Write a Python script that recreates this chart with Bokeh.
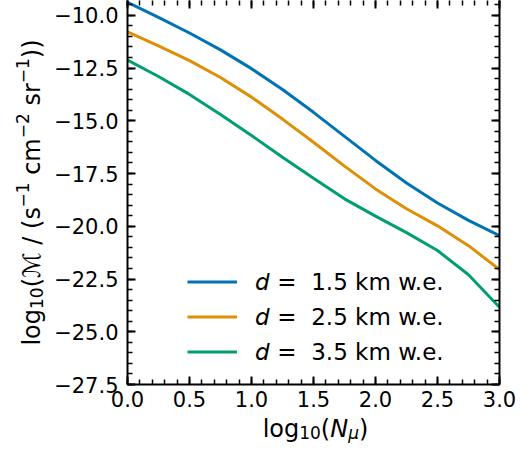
import math
from bokeh.plotting import figure
from bokeh.layouts import row, column
from bokeh.models import (LinearAxis, Range1d, SingleIntervalTicker, CustomJSTickFormatter,
                          Legend, LegendItem, Label, ColumnDataSource)
from bokeh.embed import file_html
from bokeh.resources import INLINE

# ---- data ----
log_n_mu = [0.0, 0.25, 0.5, 0.75, 1.0, 1.25, 1.5, 1.75, 2.0, 2.25, 2.5, 2.75, 3.0]
m_d15 = [-9.39, -10.10, -10.84, -11.64, -12.53, -13.52, -14.60, -15.74, -16.88, -17.95, -18.90, -19.72, -20.45]
m_d25 = [-10.79, -11.45, -12.15, -12.95, -13.88, -14.92, -16.02, -17.15, -18.23, -19.17, -19.98, -20.92, -22.05]
m_d35 = [-12.12, -12.90, -13.75, -14.70, -15.70, -16.73, -17.72, -18.70, -19.52, -20.30, -21.15, -22.30, -23.84]
depth_labels = ["\U0001D625 =  1.5 km w.e.", "\U0001D625 =  2.5 km w.e.", "\U0001D625 =  3.5 km w.e."]
colors = ["#0173B2", "#DE8F05", "#029E73"]

FONT = "DejaVu Sans"
TOTAL_W, TOTAL_H = 516, 443
YLAB_W = 48
XLAB_H = 28
FRAME_L, FRAME_R = 127, 499          # frame edges on the page
TEXT_DROP = 7  # observed offset of Bokeh's alphabetic baseline

# approximate DejaVu Sans advance widths (em) used to lay out label pieces
ADV = {'l': 0.278, 'o': 0.612, 'g': 0.635, '1': 0.636, '0': 0.636, '2': 0.636, '(': 0.390, ')': 0.390,
       ' ': 0.318, '/': 0.337, 's': 0.521, 'c': 0.550, 'm': 0.974, 'r': 0.411, '\u2212': 0.838,
       'N': 0.748, '\u03bc': 0.636, '\u2133': 1.05}


def width(txt, size):
    return sum(ADV[ch] for ch in txt) * size


# ---- main plot ----
p = figure(width=TOTAL_W - YLAB_W, height=TOTAL_H - XLAB_H, x_range=Range1d(0, 3), y_range=Range1d(-27.5, -9.3),
           output_backend="svg", toolbar_location=None,
           x_axis_location=None, y_axis_location=None,
           min_border_left=FRAME_L - YLAB_W, min_border_right=TOTAL_W - FRAME_R,
           min_border_top=0, min_border_bottom=31)
p.grid.visible = False
p.outline_line_color = None
p.background_fill_color = "white"

fmt = CustomJSTickFormatter(code='return (tick < 0 ? "\\u2212" : "") + Math.abs(tick).toFixed(1);')
blank = CustomJSTickFormatter(code='return "";')


def style_axis(ax, labelled):
    ax.major_tick_in = 8
    ax.major_tick_out = 0
    ax.minor_tick_in = 5
    ax.minor_tick_out = 0
    ax.major_tick_line_width = 2
    ax.minor_tick_line_width = 1.5
    ax.axis_line_width = 2
    ax.major_tick_line_color = "black"
    ax.minor_tick_line_color = "black"
    ax.axis_line_color = "black"
    if labelled:
        ax.formatter = fmt
        ax.major_label_text_font = FONT
        ax.major_label_text_font_size = "21px"
        ax.major_label_text_color = "black"
        ax.major_label_standoff = 7
    else:
        ax.formatter = blank
        ax.major_label_text_font_size = "0px"
        ax.major_label_standoff = 0


xb = LinearAxis(ticker=SingleIntervalTicker(interval=0.5, num_minor_ticks=5))
style_axis(xb, True)
xb.major_label_standoff = 6
p.add_layout(xb, "below")

xt = LinearAxis(ticker=SingleIntervalTicker(interval=0.5, num_minor_ticks=5))
style_axis(xt, False)
xt.axis_line_color = None
p.add_layout(xt, "above")

yl = LinearAxis(ticker=SingleIntervalTicker(interval=2.5, num_minor_ticks=5))
style_axis(yl, True)
yl.major_label_standoff = 9
p.add_layout(yl, "left")

yr = LinearAxis(ticker=SingleIntervalTicker(interval=2.5, num_minor_ticks=5))
style_axis(yr, False)
p.add_layout(yr, "right")

src = ColumnDataSource(dict(x=log_n_mu, d15=m_d15, d25=m_d25, d35=m_d35))
renderers = []
for col, c in zip(["d15", "d25", "d35"], colors):
    renderers.append(p.line("x", col, source=src, line_color=c, line_width=3))

legend = Legend(items=[LegendItem(label=lab, renderers=[r]) for lab, r in zip(depth_labels, renderers)],
                location=(60, 15), orientation="vertical", border_line_color=None,
                background_fill_alpha=0, padding=0, margin=0, spacing=0,
                glyph_width=50, glyph_height=35, label_height=35, label_standoff=18,
                label_text_font=FONT, label_text_font_size="23px", label_text_color="black")
p.add_layout(legend)


def blank_fig(w, h, left=0, right=0):
    f = figure(width=w, height=h, output_backend="svg", toolbar_location=None,
               x_axis_location=None, y_axis_location=None,
               min_border_left=left, min_border_right=right, min_border_top=0, min_border_bottom=0)
    f.grid.visible = False
    f.outline_line_color = None
    return f


MAIN, SCRIPT = 24, 17

# ---- x-axis title: log10(N_mu) ----
# its frame spans the same columns as the main frame
xfig = blank_fig(TOTAL_W - YLAB_W, XLAB_H, left=FRAME_L - YLAB_W, right=TOTAL_W - FRAME_R)
x_parts = [("log", MAIN, 0, "normal"), ("10", SCRIPT, -0.17, "normal"), ("(", MAIN, 0, "normal"),
           ("N", MAIN, 0, "italic"), ("\u03bc", SCRIPT, -0.17, "italic"), (")", MAIN, 0, "normal")]
x_total = sum(width(t, s) for t, s, _, _ in x_parts)
cx = (FRAME_L + FRAME_R) / 2 - FRAME_L + 2
pos = cx - x_total / 2
base = (TOTAL_H - 435) + TEXT_DROP
for txt, size, shift, style in x_parts:
    xfig.add_layout(Label(x=pos, y=base + shift * MAIN, x_units="screen", y_units="screen", text=txt,
                          text_font=FONT, text_font_size=f"{size}px", text_font_style=style,
                          text_baseline="alphabetic", text_align="left", text_color="black"))
    pos += width(txt, size)

# ---- y-axis title: log10(M / (s^-1 cm^-2 sr^-1)) ----
yfig = blank_fig(YLAB_W, TOTAL_H)
y_parts = [("log", MAIN, 0), ("10", SCRIPT, -0.22), ("(\u2133 / (s", MAIN, 0), ("\u22121", SCRIPT, 0.38),
           (" ", MAIN, 0), ("cm", MAIN, 0), ("\u22122", SCRIPT, 0.38), (" ", MAIN, 0), ("sr", MAIN, 0),
           ("\u22121", SCRIPT, 0.38), ("))", MAIN, 0)]
y_total = sum(width(t, s) for t, s, _ in y_parts)
cy = TOTAL_H - 192
pos = cy - y_total / 2
xbase = 38 - TEXT_DROP
for txt, size, shift in y_parts:
    if txt.strip():
        yfig.add_layout(Label(x=xbase - shift * MAIN, y=pos, x_units="screen", y_units="screen", text=txt,
                              angle=math.pi / 2, text_font=FONT, text_font_size=f"{size}px",
                              text_baseline="alphabetic", text_align="left", text_color="black"))
    pos += width(txt, size)

layout = row(yfig, column(p, xfig))
open("out.html", "w").write(file_html(layout, INLINE))
